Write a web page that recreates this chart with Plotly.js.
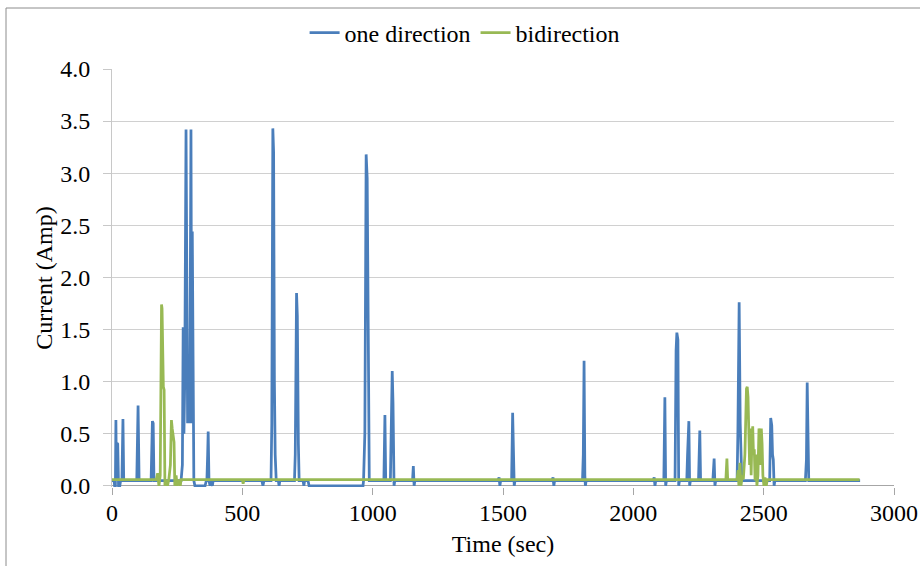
<!DOCTYPE html>
<html>
<head>
<meta charset="utf-8">
<script src="https://cdn.plot.ly/plotly-3.0.1.min.js"></script>
<style>html,body{margin:0;padding:0;background:#fff;}#chart{width:920px;height:566px;}</style>
</head>
<body>
<div id="chart"></div>
<script>
// ---- data ----
const seriesNames = ["one direction", "bidirection"];

const oneDirTime = [0,8,10,13,15,17,19,22,25,30,33,38,42,45,95,100,104,150,155,158,161,265,270,273,276,279,284,287,290,294,298,303,306,308,311,314,318,357,362,364,367,369,372,376,378,385,388,390,575,579,583,610,613,617,620,623,626,630,638,641,644,700,703,708,711,715,718,733,736,739,752,756,760,963,965,970,975,979,983,987,990,1043,1047,1050,1068,1072,1075,1078,1082,1085,1153,1156,1159,1162,1480,1485,1488,1491,1533,1537,1540,1543,1546,1688,1692,1695,1698,1805,1808,1811,1814,1816,1819,2076,2080,2083,2086,2117,2121,2124,2127,2160,2164,2167,2171,2174,2177,2205,2208,2213,2216,2219,2250,2255,2258,2305,2310,2313,2316,2398,2401,2406,2410,2413,2416,2420,2523,2527,2531,2534,2537,2540,2543,2660,2664,2667,2670,2673,2870];
const oneDirCurrent = [0.05,0.05,0.0,0.0,0.63,0.05,0.41,0.40,0.0,0.0,0.05,0.05,0.64,0.05,0.05,0.77,0.05,0.05,0.62,0.60,0.05,0.05,0.2,1.52,0.5,1.0,3.42,1.2,0.6,1.2,0.6,3.42,0.6,2.44,0.4,0.05,0.0,0.0,0.05,0.05,0.3,0.52,0.05,0.0,0.05,0.0,0.05,0.05,0.05,0.0,0.05,0.05,0.6,3.43,3.2,1.0,0.3,0.05,0.05,0.0,0.05,0.05,0.3,1.85,1.63,0.4,0.05,0.05,0.0,0.05,0.05,0.0,0.0,0.0,0.05,0.5,3.18,2.95,1.5,0.05,0.05,0.05,0.68,0.05,0.05,0.5,1.10,0.8,0.0,0.05,0.05,0.19,0.0,0.05,0.05,0.08,0.0,0.05,0.05,0.70,0.2,0.0,0.05,0.05,0.08,0.0,0.05,0.05,0.3,1.20,0.1,0.0,0.05,0.05,0.08,0.0,0.05,0.05,0.85,0.0,0.05,0.05,1.3,1.47,1.4,0.0,0.05,0.05,0.3,0.62,0.0,0.05,0.05,0.53,0.05,0.05,0.26,0.0,0.05,0.05,0.5,1.76,0.6,0.3,0.05,0.05,0.05,0.65,0.58,0.3,0.25,0.0,0.05,0.05,0.25,0.99,0.3,0.05,0.05];

const biDirTime = [0,170,175,180,185,190,192,197,200,203,207,213,218,224,228,231,235,238,241,246,250,256,262,265,500,503,507,2355,2359,2362,2398,2402,2405,2409,2413,2418,2422,2428,2434,2437,2440,2443,2446,2449,2452,2455,2458,2461,2464,2467,2470,2474,2478,2482,2485,2488,2491,2494,2497,2501,2505,2510,2514,2868];
const biDirCurrent = [0.06,0.06,0.12,0.0,0.1,1.74,1.7,0.95,0.92,0.0,0.06,0.0,0.06,0.2,0.63,0.55,0.45,0.42,0.0,0.1,0.0,0.06,0.0,0.06,0.06,0.02,0.06,0.06,0.26,0.06,0.06,0.15,0.0,0.22,0.0,0.1,0.06,0.3,0.93,0.95,0.85,0.5,0.2,0.55,0.1,0.45,0.57,0.3,0.35,0.05,0.3,0.0,0.1,0.55,0.5,0.2,0.55,0.4,0.1,0.0,0.08,0.0,0.06,0.06];

const xTickVals = [0,500,1000,1500,2000,2500,3000];
const yTickVals = [0,0.5,1,1.5,2,2.5,3,3.5,4];
const yTickText = ["0.0","0.5","1.0","1.5","2.0","2.5","3.0","3.5","4.0"];

const font = "Liberation Serif";
const fs = 24;

const traces = [
  {x: oneDirTime, y: oneDirCurrent, name: seriesNames[0], type: "scatter", mode: "lines",
   line: {color: "#4a7ebb", width: 2.75}},
  {x: biDirTime, y: biDirCurrent, name: seriesNames[1], type: "scatter", mode: "lines",
   line: {color: "#98b954", width: 2.75}}
];

const layout = {
  width: 920, height: 566,
  margin: {l: 112, r: 26, t: 69, b: 79, pad: 0},
  paper_bgcolor: "#fff", plot_bgcolor: "#fff",
  font: {family: font, size: fs, color: "#000"},
  showlegend: true,
  legend: {orientation: "h", xref: "container", yref: "container",
           x: 0.505, xanchor: "center", y: 1 - 33 / 566, yanchor: "middle",
           bgcolor: "rgba(0,0,0,0)",
           font: {family: font, size: fs, color: "#000"}, itemwidth: 30, tracegroupgap: 0},
  xaxis: {
    range: [0, 3000], tickvals: xTickVals, ticktext: xTickVals.map(String),
    showgrid: false, zeroline: false, showline: false,
    ticks: "outside", ticklen: 7, tickcolor: "#a6a6a6", tickwidth: 1,
    ticklabelstandoff: -3,
    tickfont: {family: font, size: fs, color: "#000"},
    title: {text: "Time (sec)", font: {family: font, size: fs, color: "#000"}, standoff: 10},
    automargin: false
  },
  yaxis: {
    range: [-0.012, 4], tickvals: yTickVals, ticktext: yTickText,
    showgrid: true, gridcolor: "#d0d0d0", gridwidth: 1,
    zeroline: true, zerolinecolor: "#a6a6a6", zerolinewidth: 1,
    showline: true, linecolor: "#c8c8c8", linewidth: 1,
    ticks: "outside", ticklen: 8, tickcolor: "#c8c8c8", tickwidth: 1,
    ticklabelstandoff: 8,
    tickfont: {family: font, size: fs, color: "#000"},
    title: {text: "Current (Amp)", font: {family: font, size: fs, color: "#000"}, standoff: 0},
    automargin: false
  },
  shapes: [
    {type: "rect", xref: "paper", yref: "paper",
     x0: (6 - 112) / 782, x1: (930 - 112) / 782,
     y0: (487 - 580) / 418, y1: (487 - 8) / 418,
     line: {color: "#8c8c8c", width: 1}, fillcolor: "rgba(0,0,0,0)", layer: "below"}
  ]
};

Plotly.newPlot("chart", traces, layout, {staticPlot: true, displayModeBar: false});
</script>
</body>
</html>
